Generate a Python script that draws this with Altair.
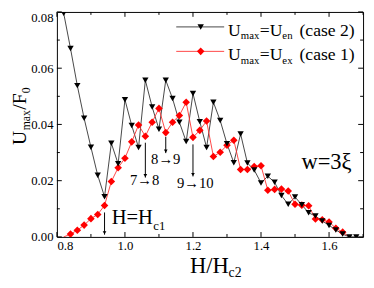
import altair as alt
import pandas as pd

# ---------------- data ----------------
h_en = [0.82, 0.84, 0.86, 0.88, 0.90, 0.92, 0.94, 0.96, 0.98, 1.00,
        1.02, 1.04, 1.06, 1.08, 1.10, 1.12, 1.14, 1.16, 1.18, 1.20,
        1.22, 1.24, 1.26, 1.28, 1.30, 1.32, 1.34, 1.36, 1.38, 1.40,
        1.42, 1.44, 1.46, 1.48, 1.50, 1.52, 1.54, 1.56, 1.58, 1.60,
        1.62, 1.64, 1.66, 1.68]
u_en = [0.0795, 0.0670, 0.0538, 0.0422, 0.0319, 0.0219, 0.0143, 0.0333, 0.0260, 0.0488,
        0.0396, 0.0318, 0.0557, 0.0462, 0.0383, 0.0557, 0.0492, 0.0408, 0.0339, 0.0510,
        0.0410, 0.0318, 0.0479, 0.0414, 0.0331, 0.0264, 0.0366, 0.0263, 0.0238, 0.0192,
        0.0216, 0.0194, 0.0147, 0.0116, 0.0142, 0.0114, 0.0086, 0.0074, 0.0057, 0.0041,
        0.0025, 0.0010, 0.0000, 0.0000]

h_ex = [0.82, 0.84, 0.86, 0.88, 0.90, 0.92, 0.94, 0.96, 0.98, 1.00,
        1.02, 1.04, 1.06, 1.08, 1.10, 1.12, 1.14, 1.16, 1.18, 1.20,
        1.22, 1.24, 1.26, 1.28, 1.30, 1.32, 1.34, 1.36, 1.38, 1.40,
        1.42, 1.44, 1.46, 1.48, 1.50, 1.52, 1.54, 1.56, 1.58, 1.60,
        1.62, 1.64, 1.66]
u_ex = [0.0000, 0.0010, 0.0024, 0.0042, 0.0065, 0.0080, 0.0112, 0.0197, 0.0246, 0.0280,
        0.0338, 0.0398, 0.0358, 0.0408, 0.0457, 0.0371, 0.0408, 0.0432, 0.0479, 0.0354,
        0.0379, 0.0412, 0.0286, 0.0301, 0.0326, 0.0344, 0.0240, 0.0240, 0.0250, 0.0253,
        0.0166, 0.0169, 0.0170, 0.0163, 0.0116, 0.0113, 0.0111, 0.0064, 0.0061, 0.0053,
        0.0031, 0.0017, 0.0000]

x_major = [0.8, 1.0, 1.2, 1.4, 1.6]
x_minor = [0.9, 1.1, 1.3, 1.5, 1.7]
y_major = [0.00, 0.02, 0.04, 0.06, 0.08]
y_minor = [0.01, 0.03, 0.05, 0.07]

arrow_h = [0.94, 1.06, 1.12, 1.20]
arrow_top = [0.0087, 0.0335, 0.0356, 0.0329]
arrow_bot = [0.0008, 0.0211, 0.0298, 0.0215]

ann_text = ["7\u21928", "8\u21929", "9\u219210"]
ann_h = [1.058, 1.12, 1.207]
ann_u = [0.0184, 0.0259, 0.0174]

# ---------------- layout ----------------
W, H = 313, 230
FONT = "Liberation Serif"
xs = alt.Scale(domain=[0.8, 1.7], nice=False, zero=False)
ys = alt.Scale(domain=[0.0, 0.08], nice=False, zero=False)

x_axis = alt.Axis(values=x_major, format=".1f", ticks=False, domain=False, grid=False,
                  title=None, labelFont=FONT, labelFontSize=13, labelColor="black",
                  labelPadding=3)
y_axis = alt.Axis(values=y_major, format=".2f", ticks=False, domain=False, grid=False,
                  title=None, labelFont=FONT, labelFontSize=13, labelColor="black",
                  labelPadding=4,
                  labelBaseline={"condition": {"test": "datum.value >= 0.079", "value": "top"},
                                 "value": "middle"})

df_en = pd.DataFrame({"h": h_en, "u": u_en})
df_ex = pd.DataFrame({"h": h_ex, "u": u_ex})

X = lambda f="h": alt.X(f"{f}:Q", scale=xs, axis=x_axis)
Y = lambda f="u": alt.Y(f"{f}:Q", scale=ys, axis=y_axis)

en_line = alt.Chart(df_en).mark_line(color="#303030", strokeWidth=0.9, clip=True).encode(x=X(), y=Y())
en_pts = alt.Chart(df_en).mark_point(shape="triangle-down", filled=True, color="black",
                                     size=42, opacity=1, clip=True).encode(x=X(), y=Y())
ex_line = alt.Chart(df_ex).mark_line(color="#ff3030", strokeWidth=0.9, clip=True).encode(x=X(), y=Y())
ex_pts = alt.Chart(df_ex).transform_filter("datum.u > 0").mark_point(
    shape="diamond", filled=True, color="#ff0000", size=60, opacity=1, clip=True).encode(x=X(), y=Y())

# inward ticks
def xticks(vals, length):
    d = pd.DataFrame({"h": vals})
    bot = alt.Chart(d).mark_rule(color="black", strokeWidth=1).encode(
        x=X(), y=alt.value(H), y2=alt.value(H - length))
    top = alt.Chart(d).mark_rule(color="black", strokeWidth=1).encode(
        x=X(), y=alt.value(0), y2=alt.value(length))
    return [bot, top]

def yticks(vals, length):
    d = pd.DataFrame({"u": vals})
    left = alt.Chart(d).mark_rule(color="black", strokeWidth=1).encode(
        y=Y(), x=alt.value(0), x2=alt.value(length))
    right = alt.Chart(d).mark_rule(color="black", strokeWidth=1).encode(
        y=Y(), x=alt.value(W), x2=alt.value(W - length))
    return [left, right]

ticks = xticks(x_major, 5) + xticks(x_minor, 3) + yticks(y_major, 5) + yticks(y_minor, 3)

# arrows
df_arr = pd.DataFrame({"h": arrow_h, "u": arrow_top, "u2": arrow_bot})
arr_lines = alt.Chart(df_arr).mark_rule(color="black", strokeWidth=1).encode(
    x=X(), y=Y(), y2="u2:Q")
arr_heads = alt.Chart(df_arr).mark_point(shape="triangle-down", filled=True, color="black",
                                         size=14, opacity=1, yOffset=-2).encode(
    x=X(), y=Y("u2"))

df_ann = pd.DataFrame({"h": ann_h, "u": ann_u, "t": ann_text})
ann = alt.Chart(df_ann).mark_text(font=FONT, fontSize=15, color="black",
                                  align="center", baseline="alphabetic").encode(
    x=X(), y=Y(), text="t:N")

# free text pieces (pixel positions within the plot area)
def txt(s, x, y, size, angle=0, align="left"):
    return alt.Chart(pd.DataFrame({"t": [s]})).mark_text(
        text=s, font=FONT, fontSize=size, color="black", align=align,
        baseline="alphabetic", angle=angle).encode(x=alt.value(x), y=alt.value(y))

pieces = [
    # H = Hc1
    txt("H=H", 56, 217, 21), txt("c1", 98.5, 223, 13),
    # w = 3xi
    txt("w=3\u03be", 250, 161, 23),
    # legend text
    txt("U", 175, 24.3, 18), txt("max", 188, 28, 11), txt("=U", 207.5, 24.3, 18),
    txt("en", 230.5, 28, 11), txt("(case 2)", 248, 24.3, 18),
    txt("U", 175, 49.3, 18), txt("max", 188, 53, 11), txt("=U", 207.5, 49.3, 18),
    txt("ex", 230.5, 53, 11), txt("(case 1)", 248, 49.3, 18),
    # x title
    txt("H/H", 136, 267, 23), txt("c2", 175.5, 271, 14),
    # y title (rotated)
    txt("U", -32, 136, 20, angle=270), txt("max", -27, 121, 12, angle=270),
    txt("/F", -32, 100, 20, angle=270), txt("0", -27, 83, 12, angle=270),
]

one = pd.DataFrame({"a": [0]})
leg_black_line = alt.Chart(one).mark_rule(color="#303030", strokeWidth=0.9).encode(
    x=alt.value(122), x2=alt.value(171), y=alt.value(15.3))
leg_black_pt = alt.Chart(one).mark_point(
    shape="triangle-down", filled=True, color="black", size=42, opacity=1).encode(
    x=alt.value(147), y=alt.value(15.3))
leg_red_line = alt.Chart(one).mark_rule(color="#ff3030", strokeWidth=0.9).encode(
    x=alt.value(122), x2=alt.value(171), y=alt.value(40.3))
leg_red_pt = alt.Chart(one).mark_point(
    shape="diamond", filled=True, color="#ff0000", size=60, opacity=1).encode(
    x=alt.value(147), y=alt.value(40.3))

chart = alt.layer(
    en_line, ex_line, *ticks, ex_pts, en_pts, arr_lines, arr_heads, ann,
    leg_black_line, leg_black_pt, leg_red_line, leg_red_pt, *pieces,
).properties(
    width=W, height=H,
    background="white",
    autosize=alt.AutoSizeParams(type="none"),
    padding={"left": 50, "top": 1, "right": 3, "bottom": 41},
).configure_view(stroke="black", strokeWidth=1).configure_axis(labelFont=FONT)

chart.save("out.html", embed_options={"renderer": "svg", "actions": False})
